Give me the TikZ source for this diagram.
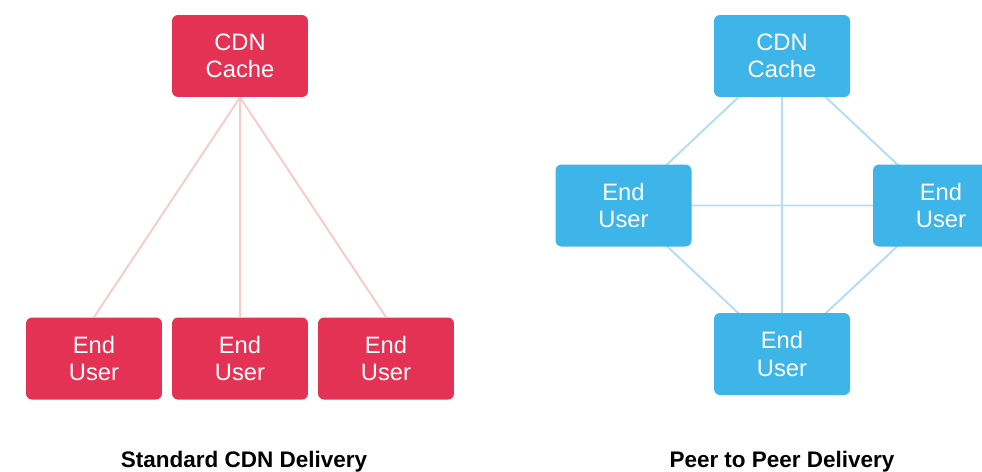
\documentclass[tikz,border=0pt]{standalone}
\usepackage{fontspec}
\setmainfont{Liberation Sans}
\usetikzlibrary{backgrounds}
\definecolor{cdnred}{HTML}{E43254}
\definecolor{cdnblue}{HTML}{3DB5E8}
\definecolor{redline}{HTML}{F8CCC6}
\definecolor{blueline}{HTML}{B5DCF2}
\tikzset{>=stealth,
  box/.style={rectangle, rounded corners=3.4pt, minimum width=2.72cm, minimum height=1.64cm,
    text=white, align=center, font=\fontsize{13.5}{15.5}\selectfont},
  redbox/.style={box, fill=cdnred},
  bluebox/.style={box, fill=cdnblue},
  link/.style={line width=1.1pt},
  caption/.style={anchor=base, font=\bfseries\fontsize{12.8}{15}\selectfont}}

\begin{document}
\begin{tikzpicture}[x=0.02cm, y=-0.02cm]
\path[use as bounding box, clip] (0,0) rectangle (982,471);
% standard delivery
\node[redbox] (cache) at (240,56) {CDN\\Cache};
\node[redbox] (userA) at (94,358.5) {End\\User};
\node[redbox] (userB) at (240,358.5) {End\\User};
\node[redbox] (userC) at (386,358.5) {End\\User};
\draw[link, redline] (cache.south) -- (userA.north)
  (cache.south) -- (userB.north)
  (cache.south) -- (userC.north);
% peer to peer
\node[bluebox] (pcache) at (782,56) {CDN\\Cache};
\node[bluebox] (pleft) at (623.5,205.5) {End\\User};
\node[bluebox] (pright) at (941,205.5) {End\\User};
\node[bluebox] (pbottom) at (782,354) {End\\User};
\begin{scope}[on background layer]
\draw[link, blueline] (pcache.center) -- (pleft.center) -- (pbottom.center)
  -- (pright.center) -- (pcache.center) -- (pbottom.center)
  (pleft.center) -- (pright.center);
\end{scope}
\node[caption] (capA) at (244,467) {Standard CDN Delivery};
\node[caption] (capB) at (782,467) {Peer to Peer Delivery};
\end{tikzpicture}
\end{document}
